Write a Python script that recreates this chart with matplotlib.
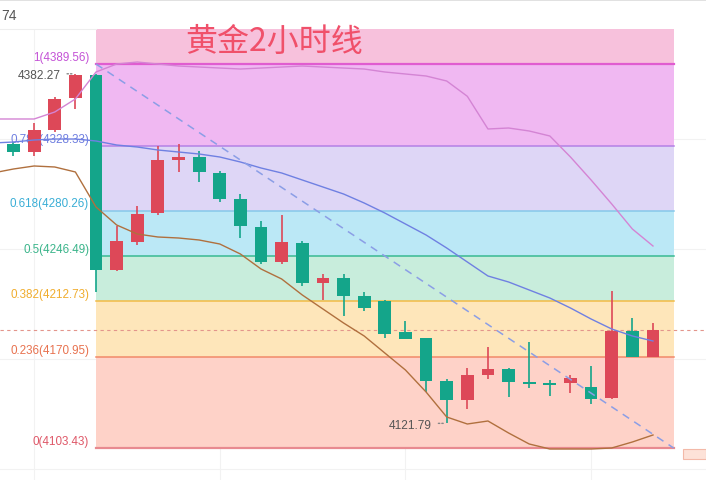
import matplotlib
matplotlib.use('Agg')
import matplotlib.pyplot as plt
from matplotlib.patches import Rectangle
import numpy as np

# 黄金 2小时 K线 + 斐波那契回撤
opens = [4330.00, 4324.00, 4340.39, 4364.24, 4381.50, 4236.07, 4256.93, 4278.54,
         4318.03, 4320.27, 4308.35, 4288.97, 4268.11, 4242.03, 4256.19, 4226.38,
         4230.11, 4216.69, 4212.97, 4189.87, 4185.40, 4153.36, 4139.20, 4157.83,
         4162.30, 4152.61, 4151.12, 4151.87, 4148.88, 4140.69, 4190.61, 4171.24]
highs = [4331.45, 4345.61, 4364.98, 4382.27, 4382.27, 4268.86, 4283.76, 4328.47,
         4329.96, 4324.74, 4309.84, 4292.70, 4272.58, 4277.05, 4257.68, 4233.09,
         4233.09, 4219.67, 4213.71, 4198.07, 4185.40, 4154.85, 4163.04, 4178.69,
         4163.04, 4182.42, 4154.10, 4157.83, 4164.53, 4220.42, 4200.30, 4196.58]
lows = [4321.02, 4321.02, 4339.00, 4356.04, 4219.67, 4235.32, 4254.70, 4277.05,
        4309.10, 4301.64, 4286.74, 4259.91, 4240.54, 4240.54, 4224.15, 4213.71,
        4201.79, 4205.52, 4185.40, 4184.65, 4145.16, 4121.79, 4132.49, 4154.85,
        4141.43, 4148.14, 4142.18, 4144.41, 4136.22, 4139.94, 4171.24, 4171.24]
closes = [4324.00, 4340.39, 4363.49, 4381.50, 4236.07, 4257.68, 4277.80, 4318.03,
          4320.27, 4309.10, 4288.97, 4268.86, 4242.03, 4256.93, 4226.38, 4230.11,
          4216.69, 4207.75, 4188.38, 4184.65, 4153.36, 4139.20, 4157.83, 4162.30,
          4152.61, 4151.12, 4150.38, 4155.59, 4139.94, 4190.61, 4171.24, 4191.36]

# 均线 (从前一根K线开始)
ma_pink = [4348.59, 4348.59, 4348.59, 4353.80, 4363.49, 4383.61, 4389.56, 4391.05,
           4389.56, 4388.06, 4387.32, 4386.57, 4385.83, 4386.57, 4387.32, 4388.06,
           4387.32, 4386.57, 4385.83, 4383.61, 4382.12, 4380.63, 4376.90, 4365.50,
           4341.14, 4341.88, 4339.65, 4335.92, 4320.27, 4303.13, 4285.25, 4266.62,
           4253.95]
ma_blue = [4330.70, 4331.45, 4332.94, 4333.68, 4333.68, 4332.19, 4329.21, 4327.72,
           4325.49, 4323.99, 4322.50, 4320.27, 4316.54, 4312.07, 4308.35, 4303.13,
           4297.92, 4292.70, 4285.99, 4278.54, 4270.35, 4262.15, 4252.46, 4242.03,
           4231.60, 4227.13, 4221.17, 4215.20, 4207.75, 4199.55, 4192.10, 4186.89,
           4183.16]
ma_brown = [4308.35, 4311.33, 4313.57, 4312.82, 4309.10, 4283.01, 4269.60, 4262.89,
            4260.66, 4259.91, 4258.42, 4255.44, 4247.99, 4236.81, 4229.36, 4217.44,
            4207.01, 4196.58, 4186.89, 4174.22, 4161.55, 4145.16, 4126.53, 4121.31,
            4123.55, 4114.61, 4106.41, 4102.68, 4102.68, 4102.68, 4103.43, 4107.90,
            4113.12]

fib_ratios = [1, 0.786, 0.618, 0.5, 0.382, 0.236, 0]
fib_prices = [4389.56, 4328.33, 4280.26, 4246.49, 4212.73, 4170.95, 4103.43]
fib_top = 4415.65
fib_start, fib_end = 4, 32
band_colors = ['#f7c1dc', '#f0b8f2', '#ded6f6', '#bbe8f6', '#c8eddc', '#fee6ba', '#fed2c8']
line_colors = ['#e05cd0', '#b480e6', '#86c8ea', '#38ba92', '#f2bb45', '#f28a6a', '#e88a90']
label_colors = ['#c452d6', '#6f7fe0', '#3aaed6', '#3bb58b', '#f0ad2e', '#e8724f', '#df5868']
grid_prices = [4087.78, 4169.75, 4251.72, 4333.68]
grid_idx = [1, 10, 19, 28]

up_color = '#dd4858'
down_color = '#14a58a'

fig = plt.figure(figsize=(7.06, 4.81), dpi=100)
fig.patch.set_facecolor('white')
ax = fig.add_axes([0, 0, 1, 451 / 481])
ax.set_xlim(-0.654, 33.57)
ax.set_ylim(4079.58, fib_top)
ax.axis('off')

for g in grid_prices:
    ax.axhline(g, color='#f2f2f2', lw=0.8, zorder=0)
for g in grid_idx:
    ax.axvline(g, color='#f2f2f2', lw=0.8, zorder=0)

# 斐波那契区域
bounds = [fib_top] + fib_prices
for k in range(len(band_colors)):
    ax.fill_between([fib_start, fib_end], bounds[k + 1], bounds[k],
                    color=band_colors[k], lw=0, zorder=1)
for k, (r, p) in enumerate(zip(fib_ratios, fib_prices)):
    lw = 1.6 if r in (1, 0) else 1.1
    ax.plot([fib_start, fib_end], [p, p], color=line_colors[k], lw=lw, zorder=2)
    ax.annotate(f'{r}({p:.2f})', xy=(fib_start, p), xytext=(-5, 1),
                textcoords='offset points', ha='right', va='bottom',
                fontsize=8.4, family='Liberation Sans', color=label_colors[k], zorder=2)

ax.plot([fib_start, fib_end], [fib_prices[0], fib_prices[-1]], color='#8b9ee6',
        lw=1.1, dashes=(5, 4), zorder=6)

# 当前价虚线
ax.axhline(closes[-1], color='#e3958c', lw=0.8, dashes=(3, 3), zorder=2)

# K线
x = np.arange(len(opens))
for i in x:
    o, h, l, c = opens[i], highs[i], lows[i], closes[i]
    col = up_color if c >= o else down_color
    ax.vlines(i, l, h, color=col, lw=1.2, zorder=3)
    ax.bar(i, max(abs(c - o), 1.5), bottom=min(o, c), width=0.62, color=col, zorder=4)

xm = np.arange(-1, len(opens))
ax.plot(xm, ma_pink, color='#d484d4', lw=1.0, zorder=5)
ax.plot(xm, ma_blue, color='#6f80e2', lw=1.0, zorder=5)
ax.plot(xm, ma_brown, color='#b0703e', lw=1.0, zorder=5)

# 最高/最低价标注
hi_i = int(np.argmax(highs[:4]))
lo_i = int(np.argmin(lows))
for idx, val in [(hi_i, highs[hi_i]), (lo_i, lows[lo_i])]:
    ax.annotate(f'{val:.2f}', xy=(idx, val), xytext=(-10.5, -1), textcoords='offset points',
                ha='right', va='center', fontsize=8.6, family='Liberation Sans',
                color='#555555', zorder=7)
    ax.annotate('', xy=(idx, val), xytext=(-8, 0), textcoords='offset points',
                arrowprops=dict(arrowstyle='-', color='#888888', lw=1.0,
                                linestyle=(0, (1, 1.5))), zorder=7)

# 顶部工具栏
fig.add_artist(plt.Line2D([0, 1], [1 - 1 / 481, 1 - 1 / 481], color='#dcdcdc', lw=1.2))
fig.add_artist(plt.Line2D([0, 96 / 706], [1 - 30 / 481, 1 - 30 / 481], color='#eeeeee', lw=0.8))
fig.text(1 / 706, 1 - 16 / 481, '74', fontsize=10, color='#555555', va='center',
         family='Liberation Sans')

fig.text(185 / 706, 1 - 42 / 481, '黄金2小时线', fontsize=23, color='#f0506a',
         va='center', ha='left', family=['Noto Sans CJK SC', 'DejaVu Sans'])

fig.add_artist(Rectangle((683 / 706, 1 - 460 / 481), 23 / 706, 10 / 481,
                         facecolor='#fde2d8', edgecolor='#f3b9a8', lw=0.8))

fig.savefig('out.png', dpi=100)
